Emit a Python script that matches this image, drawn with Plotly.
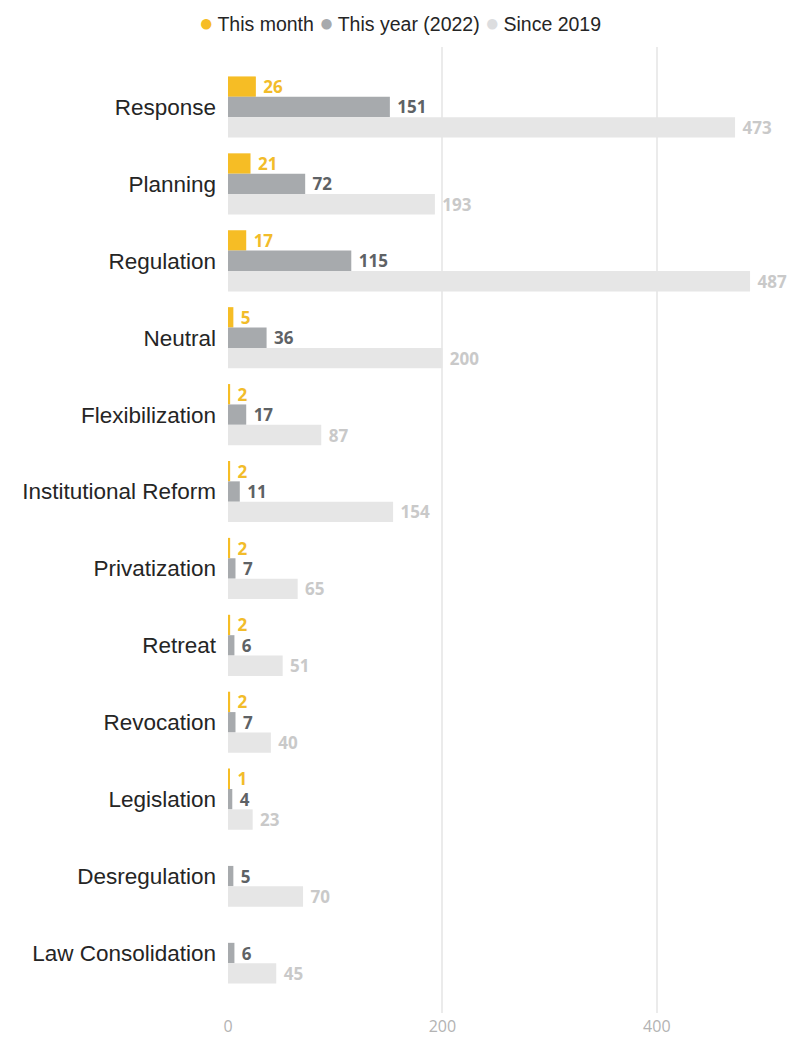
import plotly.graph_objects as go

categories = ["Response", "Planning", "Regulation", "Neutral", "Flexibilization",
              "Institutional Reform", "Privatization", "Retreat", "Revocation",
              "Legislation", "Desregulation", "Law Consolidation"]
this_month = [26, 21, 17, 5, 2, 2, 2, 2, 2, 1, None, None]
this_year = [151, 72, 115, 36, 17, 11, 7, 6, 7, 4, 5, 6]
since_2019 = [473, 193, 487, 200, 87, 154, 65, 51, 40, 23, 70, 45]
series_names = ["This month", "This year (2022)", "Since 2019"]
x_ticks = [0, 200, 400]

bar_colors = ["#F6BD25", "#A7AAAD", "#E6E6E6"]
text_colors = ["#F2BC2A", "#5E6265", "#C9C9C9"]
legend_dot_colors = ["#F6BD25", "#A7AAAD", "#DCDDDF"]

fig = go.Figure()
for name, vals, bc, tc in zip(series_names, [this_month, this_year, since_2019], bar_colors, text_colors):
    fig.add_trace(go.Bar(
        y=categories, x=vals, orientation="h", name=name,
        marker=dict(color=bc, line=dict(width=0)),
        text=vals, texttemplate="\u00a0%{x}", textposition="outside",
        constraintext="none",
        textfont=dict(family="Open Sans", size=17, color=tc, weight="bold"),
        cliponaxis=False, showlegend=False,
    ))

legend_text = "\u00a0".join(
    f"<span style='color:{c};font-size:24px'>\u25CF</span>\u2009{n}"
    for n, c in zip(series_names, legend_dot_colors)
)

W, H = 784, 1029
L, R, T, B = 220, 28, 39, 24
plot_h = H - T - B
plot_w = W - L - R

fig.add_annotation(
    xref="paper", yref="paper", x=(392 - L) / plot_w, y=1 + (T - 14) / plot_h,
    xanchor="center", yanchor="middle", showarrow=False, borderpad=0,
    text=legend_text, font=dict(family="Liberation Sans", size=19.5, color="#252525"),
)

fig.update_layout(
    width=W, height=H,
    margin=dict(l=L, r=R, t=T, b=B),
    paper_bgcolor="white", plot_bgcolor="white",
    barmode="group", bargap=0.205, bargroupgap=0,
    font=dict(family="Liberation Sans", color="#252525"),
    showlegend=False,
    xaxis=dict(range=[0, 500], tickvals=x_ticks, showgrid=True, gridcolor="#EBEBEB",
               gridwidth=2, zeroline=False, showline=False,
               tickfont=dict(family="Open Sans", size=16, color="#B3B3B3"),
               ticklabelstandoff=2, automargin=False),
    yaxis=dict(categoryorder="array", categoryarray=categories,
               range=[11.78, -0.78], showgrid=False, zeroline=False, showline=False,
               tickfont=dict(family="Liberation Sans", size=22.5, color="#252525"),
               ticklabelstandoff=11, automargin=False),
)

fig.write_html("out.html")
